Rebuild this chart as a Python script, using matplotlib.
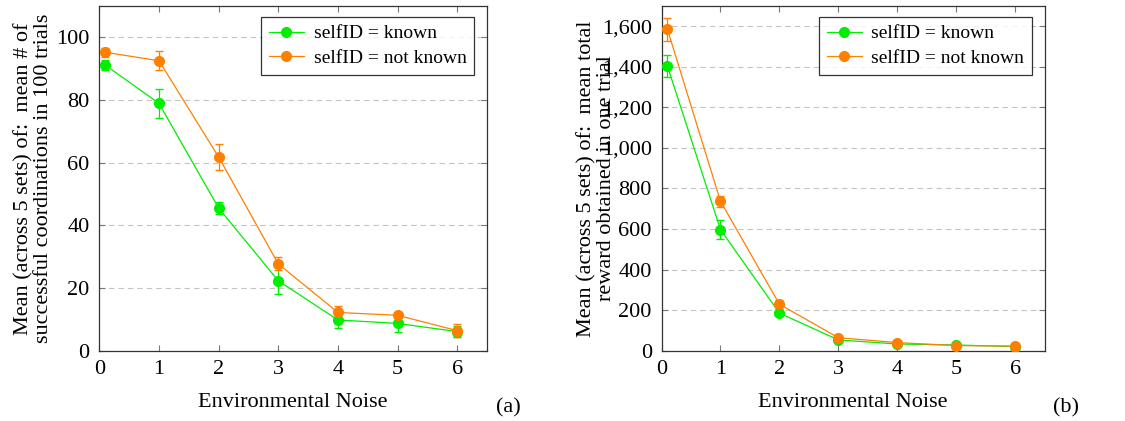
import matplotlib
matplotlib.use("Agg")
import matplotlib.pyplot as plt
from matplotlib.lines import Line2D

# data
noise = [0.1, 1, 2, 3, 4, 5, 6]

coord_known = [91.1, 78.9, 45.5, 22.3, 9.8, 8.7, 6.1]
coord_known_err = [1.5, 4.6, 2.0, 4.3, 2.7, 2.8, 1.8]
coord_not = [95.2, 92.5, 61.8, 27.7, 12.2, 11.3, 6.4]
coord_not_err = [1.4, 3.1, 4.1, 2.1, 2.1, 0.5, 2.0]

reward_known = [1404, 597, 185, 53, 33, 28, 20]
reward_known_err = [53, 46, 15, 8, 5, 4, 3]
reward_not = [1585, 737, 229, 64, 40, 25, 23]
reward_not_err = [56, 27, 23, 6, 4, 3, 3]

labels = ["selfID = known", "selfID = not known"]
GREEN = "#00ee00"
ORANGE = "#ff8000"

plt.rcParams["font.family"] = ["Liberation Serif", "DejaVu Serif"]

fig = plt.figure(figsize=(11.25, 4.21), dpi=100)
ax1 = fig.add_axes([0.0883, 0.167, 0.3446, 0.819])
ax2 = fig.add_axes([0.588, 0.167, 0.3407, 0.819])


def panel(ax, known, known_err, notk, notk_err, ylim, yticks, ylabel, fmt):
    ax.errorbar(noise, known, yerr=known_err, color=GREEN, marker="o", markersize=7,
                linewidth=0.9, capsize=3, elinewidth=0.9, zorder=3)
    ax.errorbar(noise, notk, yerr=notk_err, color=ORANGE, marker="o", markersize=7,
                linewidth=0.9, capsize=3, elinewidth=0.9, zorder=3)
    ax.set_xlim(0, 6.5)
    ax.set_ylim(0, ylim)
    ax.set_xticks(range(7))
    ax.set_yticks(yticks)
    ax.set_xticklabels([str(i) for i in range(7)], fontsize=16)
    ax.set_yticklabels([fmt(v) for v in yticks], fontsize=16)
    for y in yticks[1:]:
        ax.axhline(y, color="#c4c4c4", linestyle=(0, (5, 3.5)), linewidth=0.8, zorder=1)
    ax.tick_params(direction="in", top=True, right=True, length=4, color="#777777", pad=7)
    for s in ax.spines.values():
        s.set_color("#333333")
        s.set_linewidth(0.9)
    ax.set_xlabel("Environmental Noise", fontsize=16, labelpad=10)
    ax.set_ylabel(ylabel, fontsize=16, linespacing=1.0)
    handles = [Line2D([], [], color=GREEN, marker="o", markersize=7, linewidth=0.9),
               Line2D([], [], color=ORANGE, marker="o", markersize=7, linewidth=0.9)]
    leg = ax.legend(handles, labels, loc="upper right", fontsize=14, frameon=True,
                    fancybox=False, edgecolor="black", borderpad=0.4, handlelength=1.8,
                    handletextpad=0.5, labelspacing=0.35, borderaxespad=0,
                    bbox_to_anchor=(0.967, 0.968))
    leg.get_frame().set_linewidth(0.9)


panel(ax1, coord_known, coord_known_err, coord_not, coord_not_err, 110,
      [0, 20, 40, 60, 80, 100],
      "Mean (across 5 sets) of:  mean # of\nsuccessful coordinations in 100 trials",
      lambda v: str(v))
panel(ax2, reward_known, reward_known_err, reward_not, reward_not_err, 1700,
      [0, 200, 400, 600, 800, 1000, 1200, 1400, 1600],
      "Mean (across 5 sets) of:  mean total\nreward obtained in one trial",
      lambda v: f"{v:,}")

ax1.yaxis.set_label_coords(-0.12, 0.5)
ax2.yaxis.set_label_coords(-0.12, 0.5)

fig.text(0.441, 0.02, "(a)", fontsize=16)
fig.text(0.936, 0.02, "(b)", fontsize=16)

fig.savefig("out.png", dpi=100)
